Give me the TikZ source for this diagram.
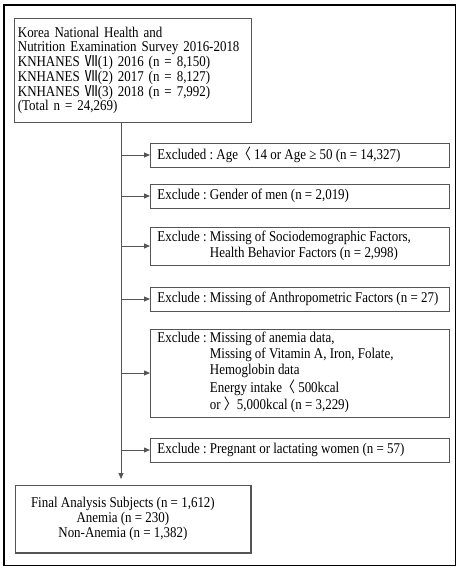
\documentclass[tikz,border=0pt]{standalone}
\usepackage{fontspec}
\setmainfont{Liberation Serif}[FakeStretch=0.87]
\newfontfamily\cjk{Noto Sans CJK KR}[FakeStretch=0.87]
\usetikzlibrary{arrows.meta,calc}
\definecolor{boxgray}{HTML}{555555}
\newcommand{\exl}[1]{\makebox[285pt][l]{#1}}
\tikzset{
  box/.style={draw=boxgray, line width=0.8pt, rectangle, inner sep=0pt},
  exbox/.style={box, anchor=west, minimum width=299pt,
     font=\fontsize{14.9}{16}\selectfont\frenchspacing},
  conn/.style={draw=boxgray, line width=0.8pt},
  arr/.style={conn, -{Triangle[length=6pt,width=5pt]}},
}
\begin{document}
\frenchspacing
\begin{tikzpicture}[x=1pt,y=-1pt]
\useasboundingbox (0,0) rectangle (460,573);
\draw[line width=1.2pt] (4,5) rectangle (455.5,565.5);
\coordinate (spine) at (121,0);
\node[box, anchor=north west, minimum width=237pt, minimum height=104pt, text width=230pt,
  align=left, font=\fontsize{14.9}{14}\selectfont] (top) at (14,18)
  {Korea National Health and\\
   Nutrition Examination Survey 2016-2018\\
   KNHANES {\cjk Ⅶ}(1) 2016 (n = 8,150)\\
   KNHANES {\cjk Ⅶ}(2) 2017 (n = 8,127)\\
   KNHANES {\cjk Ⅶ}(3) 2018 (n = 7,992)\\
   (Total n = 24,269)};
\node[exbox, minimum height=24pt] (ex1) at (150,155)
  {\exl{Excluded : Age{\cjk 〈} 14 or Age ≥ 50 (n = 14,327)}};
\node[exbox, minimum height=24pt] (ex2) at (150,196)
  {\exl{Exclude : Gender of men (n = 2,019)}};
\node[exbox, minimum height=38pt] (ex3) at (150,246)
  {\exl{\begin{tabular}{@{}l@{\ }l@{}}Exclude : & Missing of Sociodemographic Factors,\\
   & Health Behavior Factors (n = 2,998)\end{tabular}}};
\node[exbox, minimum height=24pt] (ex4) at (150,299)
  {\exl{Exclude : Missing of Anthropometric Factors (n = 27)}};
\node[exbox, minimum height=88pt] (ex5) at (150,373)
  {\exl{\begin{tabular}{@{}l@{\ }l@{}}Exclude : & Missing of anemia data,\\
   & Missing of Vitamin A, Iron, Folate,\\
   & Hemoglobin data\\
   & Energy intake{\cjk 〈} 500kcal\\
   & or {\cjk 〉}5,000kcal (n = 3,229)\end{tabular}}};
\node[exbox, minimum height=24pt] (ex6) at (150,450)
  {\exl{Exclude : Pregnant or lactating women (n = 57)}};
\node[box, anchor=north west, minimum width=235pt, minimum height=67pt] (final) at (15,485) {};
\node[align=center, font=\fontsize{14.9}{15}\selectfont, inner sep=0pt] (finaltext) at ($(final.center)+(-10,0)$)
  {Final Analysis Subjects (n = 1,612)\\ Anemia (n = 230)\\ Non-Anemia (n = 1,382)};
\draw[conn, line width=1.8pt] (final.south west) -- (final.south east) -- (final.north east);
\draw[arr, shorten >=6pt] (top.south -| spine) -- (final.north -| spine);
\foreach \e in {ex1,ex2,ex3,ex4,ex5,ex6}
  \draw[arr] (\e.west -| spine) -- (\e.west);
\end{tikzpicture}
\end{document}
